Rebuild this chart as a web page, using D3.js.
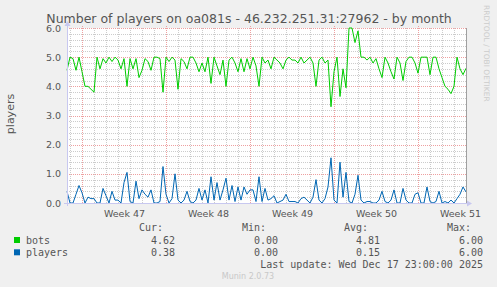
<!DOCTYPE html>
<html>
<head>
<meta charset="utf-8">
<script src="https://cdn.jsdelivr.net/npm/d3@7"></script>
<style>
  body { margin: 0; background: #f0f0f0; }
  svg { display: block; font-family: "DejaVu Sans", sans-serif; }
  .mono { font-family: "DejaVu Sans Mono", monospace; }
</style>
</head>
<body>
<div id="chart"></div>
<script>

// samples every 6 hours, starting Fri Nov 14 2025 18:00
var startTime = Date.UTC(2025, 10, 14, 18);
var stepHours = 6;

var bots = [
  4.55, 5.0, 4.95, 4.55, 5.0, 4.5, 4.0, 4.0, 3.9, 3.8,
  5.0, 4.6, 4.95, 4.8, 5.0, 4.85, 5.0, 4.9, 4.6, 4.95,
  4.0, 4.95, 4.6, 4.95, 4.3, 4.55, 4.95, 4.85, 4.55, 5.0,
  5.0, 4.95, 3.8, 5.0, 4.85, 5.0, 4.9, 3.9, 4.95, 4.85,
  4.6, 5.0, 5.0, 4.8, 4.5, 4.8, 4.5, 5.0, 4.1, 5.0,
  4.7, 4.4, 4.9, 4.0, 4.9, 5.0, 4.8, 4.5, 4.95, 4.5,
  4.95, 4.6, 5.0, 4.7, 4.0, 5.0, 4.8, 4.9, 4.6, 5.0,
  4.9, 4.8, 4.6, 4.9, 5.0, 4.9, 4.9, 4.8, 5.0, 4.8,
  4.9, 5.0, 4.8, 4.0, 4.9, 5.0, 4.8, 4.9, 3.3, 4.5,
  5.0, 3.65, 4.6, 3.95, 6.0, 6.0, 5.5, 5.9, 5.0, 5.0,
  4.9, 5.0, 4.8, 4.95, 4.6, 4.3, 5.0, 4.8, 4.5, 4.25,
  5.0, 4.8, 4.2, 4.85, 5.0, 5.0, 4.8, 4.45, 5.0, 5.0,
  5.0, 4.4, 5.0, 5.0, 4.6, 4.3, 4.0, 3.9, 3.75, 4.0,
  5.0, 4.6, 4.4, 4.62
];

var players = [
  0.4, 0.0, 0.0, 0.3, 0.6, 0.35, 0.0, 0.2, 0.15, 0.15,
  0.0, 0.0, 0.5, 0.25, 0.0, 0.4, 0.1, 0.1, 0.0, 0.7,
  1.05, 0.05, 0.0, 0.75, 0.15, 0.45, 0.3, 0.2, 0.45, 0.0,
  0.0, 0.05, 1.25, 0.3, 0.0, 0.15, 1.0, 0.1, 0.0, 0.1,
  0.4, 0.05, 0.0, 0.1, 0.5, 0.1, 0.45, 0.0, 0.9, 0.1,
  0.7, 0.1, 0.45, 0.85, 0.1, 0.6, 0.05, 0.55, 0.1, 0.55,
  0.3, 0.45, 0.45, 0.05, 0.9, 0.05, 0.5, 0.1, 0.15, 0.25,
  0.0, 0.05, 0.1, 0.3, 0.05, 0.05, 0.05, 0.0, 0.15, 0.2,
  0.1, 0.0, 0.2, 0.8, 0.1, 0.0, 0.15, 0.55, 1.55, 0.1,
  0.0, 1.4, 0.2, 1.05, 0.05, 0.0, 0.3, 0.95, 0.1, 0.0,
  0.05, 0.05, 0.0, 0.0, 0.1, 0.4, 0.05, 0.0, 0.1, 0.45,
  0.0, 0.0, 0.5, 0.1, 0.0, 0.0, 0.3, 0.35, 0.0, 0.0,
  0.55, 0.05, 0.0, 0.05, 0.4, 0.0, 0.05, 0.0, 0.1, 0.0,
  0.15, 0.3, 0.55, 0.38
];

var seriesNames = ["bots", "players"];
var seriesColors = ["#00cc00", "#0066b3"];
var yTicks = [0, 1, 2, 3, 4, 5, 6];
var legendHeads = ["Cur:", "Min:", "Avg:", "Max:"];
var botsStats = ["4.62", "0.00", "4.81", "6.00"];
var playersStats = ["0.38", "0.00", "0.15", "6.00"];
var titleText = "Number of players on oa081s - 46.232.251.31:27962 - by month";
var yLabel = "players";
var lastUpdate = "Last update: Wed Dec 17 23:00:00 2025";
var footer = "Munin 2.0.73";
var sideText = "RRDTOOL / TOBI OETIKER";

var W = 497, H = 287;
var margin = {top: 28, left: 67};
var width = 399, height = 175;
var textCol = "#555";

var svg = d3.select("#chart").append("svg")
    .attr("width", W)
    .attr("height", H);

svg.append("rect").attr("width", W).attr("height", H).attr("fill", "#f0f0f0");

var t0 = new Date(startTime);
var t1 = new Date(startTime + (bots.length - 1) * stepHours * 3600e3);

var x = d3.scaleTime().domain([t0, t1]).range([0, width]);
var y = d3.scaleLinear().domain([0, 6]).range([height, 0]);

var g = svg.append("g")
    .attr("transform", "translate(" + margin.left + "," + margin.top + ")");

g.append("rect").attr("width", width).attr("height", height).attr("fill", "#ffffff");

function styleGrid(sel, color) {
  sel.select(".domain").remove();
  sel.selectAll("line")
    .attr("stroke", color)
    .attr("stroke-dasharray", "1,1")
    .attr("shape-rendering", "crispEdges");
}

// minor grid
var minorY = d3.range(0, 31).filter(function(i) { return i % 5 != 0; }).map(function(i) { return i / 5; });
g.append("g")
  .call(d3.axisLeft(y).tickValues(minorY).tickSize(-width).tickFormat(""))
  .call(styleGrid, "#cccccc");

var days = d3.utcDay.range(t0, t1).filter(function(d) { return d.getUTCDay() != 0; });
g.append("g")
  .attr("transform", "translate(0," + height + ")")
  .call(d3.axisBottom(x).tickValues(days).tickSize(-height).tickFormat(""))
  .call(styleGrid, "#cccccc");

// major grid
g.append("g")
  .call(d3.axisLeft(y).tickValues(yTicks).tickSize(-width).tickFormat(""))
  .call(styleGrid, "#eea0a0");

var sundays = d3.utcSunday.range(t0, t1);
g.append("g")
  .attr("transform", "translate(0," + height + ")")
  .call(d3.axisBottom(x).tickValues(sundays).tickSize(-height - 3).tickFormat(""))
  .call(styleGrid, "#eea0a0");

// series
var series = [bots, players];
series.forEach(function(vals, k) {
  var line = d3.line()
    .x(function(d, i) { return x(new Date(startTime + i * stepHours * 3600e3)); })
    .y(function(d) { return y(d); });
  g.append("path")
    .datum(vals)
    .attr("fill", "none")
    .attr("stroke", seriesColors[k])
    .attr("stroke-width", 1)
    .attr("d", line);
});

// right border
g.append("line")
  .attr("x1", width + 0.5).attr("x2", width + 0.5)
  .attr("y1", 0).attr("y2", height)
  .attr("stroke", "#a0a0a0");

// axes lines with arrows
var axisCol = "#c8c8f0";
g.append("line")
  .attr("x1", 0.5).attr("x2", 0.5).attr("y1", height + 3).attr("y2", -4)
  .attr("stroke", axisCol);
g.append("path")
  .attr("d", "M-2.5,-2 L3.5,-2 L0.5,-7 Z").attr("fill", axisCol);
g.append("line")
  .attr("x1", -3).attr("x2", width + 2).attr("y1", height + 0.5).attr("y2", height + 0.5)
  .attr("stroke", axisCol);
g.append("path")
  .attr("d", "M" + (width + 1) + "," + (height - 2.5) + " L" + (width + 1) + "," + (height + 3.5) +
        " L" + (width + 6) + "," + (height + 0.5) + " Z")
  .attr("fill", axisCol);

// y labels
var yAx = g.append("g")
  .call(d3.axisLeft(y).tickValues(yTicks).tickSize(0).tickPadding(6).tickFormat(d3.format(".1f")));
yAx.select(".domain").remove();
yAx.selectAll("text")
  .attr("fill", textCol)
  .attr("font-family", "DejaVu Sans")
  .attr("font-size", "9.5px");

// week labels
var labelDates = sundays.map(function(d) { return new Date(+d + 3.5 * 864e5); });
var xAx = g.append("g")
  .attr("transform", "translate(0," + height + ")")
  .call(d3.axisBottom(x).tickValues(labelDates).tickSize(0).tickPadding(7).tickFormat(d3.utcFormat("Week %V")));
xAx.select(".domain").remove();
xAx.selectAll("text")
  .attr("fill", textCol)
  .attr("font-family", "DejaVu Sans")
  .attr("font-size", "9.5px");

// title
svg.append("text")
  .attr("x", 249).attr("y", 23)
  .attr("text-anchor", "middle")
  .attr("font-size", "12.5px")
  .attr("fill", textCol)
  .text(titleText);

svg.append("text")
  .attr("transform", "translate(14,114) rotate(-90)")
  .attr("text-anchor", "middle")
  .attr("font-size", "11px")
  .attr("fill", textCol)
  .text(yLabel);

svg.append("text")
  .attr("transform", "translate(484,5) rotate(90)")
  .attr("font-size", "7.5px")
  .attr("fill", "#cccccc")
  .text(sideText);

// legend
var colRight = [175, 278, 380, 483];
var legend = svg.append("g").attr("class", "mono").attr("font-size", "10px").attr("fill", textCol);
legendHeads.forEach(function(h, i) {
  legend.append("text").attr("x", colRight[i] - 12).attr("y", 231)
    .attr("text-anchor", "end").text(h);
});
var stats = [botsStats, playersStats];
seriesNames.forEach(function(name, k) {
  var yy = 243.5 + k * 12.3;
  legend.append("rect")
    .attr("x", 14).attr("y", yy - 6.5).attr("width", 6).attr("height", 6)
    .attr("fill", seriesColors[k]);
  legend.append("text").attr("x", 26).attr("y", yy).text(name);
  stats[k].forEach(function(v, i) {
    legend.append("text").attr("x", colRight[i]).attr("y", yy)
      .attr("text-anchor", "end").text(v);
  });
});
legend.append("text").attr("x", 483).attr("y", 268)
  .attr("text-anchor", "end").text(lastUpdate);

svg.append("text")
  .attr("x", 248).attr("y", 279)
  .attr("text-anchor", "middle")
  .attr("font-size", "8px")
  .attr("fill", "#c8c8c8")
  .text(footer);

</script>
</body>
</html>
